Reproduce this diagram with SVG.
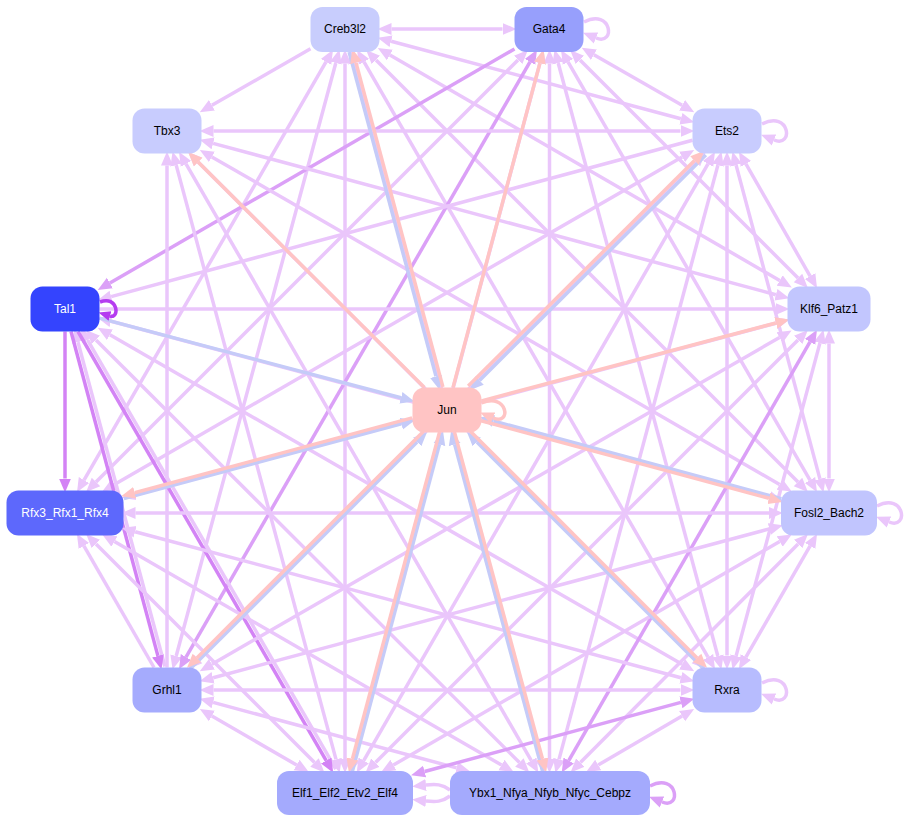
<svg xmlns="http://www.w3.org/2000/svg" width="908" height="823" viewBox="0 0 908 823">
<style>
.e{fill:none;stroke-width:3.5}
.L{stroke:#eac6fb}.M{stroke:#dba0f7}.D{stroke:#d383f5}.P{stroke:#ffc4c4}.B{stroke:#c5cbf8}
.LL{marker-start:url(#mL);marker-end:url(#mL)}.Le{marker-end:url(#mL)}
.MM{marker-start:url(#mM);marker-end:url(#mM)}.Me{marker-end:url(#mM)}
.De{marker-end:url(#mD)}.Pe{marker-end:url(#mP)}.Be{marker-end:url(#mB)}
.n rect{rx:12;ry:12}
.n text{font-family:"Liberation Sans",Arial,sans-serif;font-size:12px;text-anchor:middle;dominant-baseline:central;fill:#000}
.n .w{fill:#fff}
</style>
<defs>
<marker id="mL" viewBox="0 -7 15 14" refX="0" refY="0" markerWidth="15" markerHeight="14" markerUnits="userSpaceOnUse" orient="auto-start-reverse"><path d="M0,-6L14,0L0,6z" fill="#eac6fb"/></marker>
<marker id="mM" viewBox="0 -7 15 14" refX="0" refY="0" markerWidth="15" markerHeight="14" markerUnits="userSpaceOnUse" orient="auto-start-reverse"><path d="M0,-6L14,0L0,6z" fill="#dba0f7"/></marker>
<marker id="mD" viewBox="0 -7 15 14" refX="0" refY="0" markerWidth="15" markerHeight="14" markerUnits="userSpaceOnUse" orient="auto-start-reverse"><path d="M0,-6L14,0L0,6z" fill="#d383f5"/></marker>
<marker id="mD2" viewBox="0 -7 15 14" refX="0" refY="0" markerWidth="15" markerHeight="14" markerUnits="userSpaceOnUse" orient="auto-start-reverse"><path d="M0,-5L12,0L0,5z" fill="#b53cf0"/></marker>
<marker id="mP" viewBox="0 -7 15 14" refX="0" refY="0" markerWidth="15" markerHeight="14" markerUnits="userSpaceOnUse" orient="auto-start-reverse"><path d="M0,-6L14,0L0,6z" fill="#ffc4c4"/></marker>
<marker id="mB" viewBox="0 -7 15 14" refX="0" refY="0" markerWidth="15" markerHeight="14" markerUnits="userSpaceOnUse" orient="auto-start-reverse"><path d="M0,-6L14,0L0,6z" fill="#c5cbf8"/></marker>
</defs>
<g id="edges">
<line class="e L LL" x1="391.5" y1="29" x2="502.5" y2="29" stroke-width="4.5"/>
<line class="e L Le" x1="310.5" y1="48.8" x2="211.9" y2="105.3"/>
<line class="e L LL" x1="391.1" y1="41.3" x2="680.9" y2="118.7" stroke-width="5"/>
<line class="e L LL" x1="389.9" y1="55" x2="779.7" y2="280.5"/>
<line class="e L LL" x1="326" y1="61.9" x2="84" y2="480.1"/>
<line class="e L LL" x1="376" y1="60" x2="798" y2="482"/>
<line class="e L LL" x1="335.8" y1="63" x2="176.2" y2="656" stroke-width="4.5"/>
<line class="e L LL" x1="364" y1="61.9" x2="708" y2="657.1"/>
<line class="e L LL" x1="345" y1="63.5" x2="345" y2="759" stroke-width="5.5"/>
<line class="e L LL" x1="354.2" y1="63.2" x2="541" y2="759.4" stroke-width="4.5"/>
<line class="e L LL" x1="593.9" y1="54.7" x2="682.1" y2="105.3" stroke-width="4.5"/>
<line class="e M Me" x1="514.5" y1="49" x2="109.9" y2="283" stroke-width="2.5"/>
<line class="e L LL" x1="580" y1="60" x2="798" y2="278"/>
<line class="e L LL" x1="518" y1="60" x2="96" y2="482"/>
<line class="e L LL" x1="568" y1="61.9" x2="810" y2="480.1"/>
<line class="e M MM" x1="530" y1="61.9" x2="186" y2="657.1" stroke-width="3"/>
<line class="e L LL" x1="558.2" y1="63" x2="717.8" y2="656"/>
<line class="e L LL" x1="539.9" y1="63.2" x2="354" y2="759.4"/>
<line class="e L LL" x1="549.5" y1="63.5" x2="549.5" y2="759" stroke-width="5.5"/>
<line class="e L LL" x1="213.5" y1="131" x2="680.5" y2="131" stroke-width="4.5"/>
<line class="e L LL" x1="213.1" y1="143.4" x2="775.9" y2="294.7" stroke-width="5"/>
<line class="e L LL" x1="211.9" y1="156.9" x2="779.6" y2="484.5"/>
<line class="e L Le" x1="167" y1="667.5" x2="167" y2="165.5"/>
<line class="e L LL" x1="198.1" y1="162" x2="695.9" y2="659" stroke-width="4.5"/>
<line class="e L LL" x1="176.2" y1="165.1" x2="336" y2="759.4" stroke-width="4.5"/>
<line class="e L LL" x1="186" y1="163.9" x2="531.3" y2="760.6" stroke-width="4.5"/>
<line class="e L Le" x1="692.5" y1="140.3" x2="111.1" y2="296.6"/>
<line class="e L LL" x1="745.9" y1="163.9" x2="810.1" y2="276.1"/>
<line class="e L LL" x1="682.1" y1="156.9" x2="114.4" y2="484.5" stroke-width="4.5"/>
<line class="e L LL" x1="736.1" y1="165.1" x2="819.9" y2="478.9" stroke-width="4.5"/>
<line class="e L LL" x1="695.9" y1="162" x2="198.1" y2="659" stroke-width="4.5"/>
<line class="e L LL" x1="727" y1="165.5" x2="727" y2="655.5" stroke-width="5.5"/>
<line class="e L LL" x1="708" y1="163.9" x2="363.7" y2="760.6"/>
<line class="e L LL" x1="717.9" y1="165.1" x2="559" y2="759.4"/>
<line class="e L Le" x1="99.5" y1="309" x2="775.5" y2="309"/>
<line class="e D De" x1="65" y1="331.5" x2="65" y2="478.5" stroke-width="3"/>
<line class="e L LL" x1="111.1" y1="321.3" x2="769.4" y2="497.1"/>
<line class="e L Le" x1="164.9" y1="666.5" x2="78" y2="342.1"/>
<line class="e D De" x1="71" y1="331.5" x2="157.9" y2="655.9" stroke-width="2.5"/>
<line class="e L LL" x1="109.9" y1="334.8" x2="682.1" y2="664.2"/>
<line class="e L Le" x1="335.8" y1="769" x2="87.5" y2="339.9"/>
<line class="e D De" x1="78" y1="331.5" x2="326.2" y2="760.6" stroke-width="2.5"/>
<line class="e L LL" x1="96" y1="340" x2="519.4" y2="762.5"/>
<line class="e L LL" x1="775.9" y1="323.2" x2="135.1" y2="494.3" stroke-width="5"/>
<line class="e L LL" x1="829" y1="343.5" x2="829" y2="478.5" stroke-width="5.5"/>
<line class="e L LL" x1="779.5" y1="337.5" x2="211.9" y2="664.2" stroke-width="4.5"/>
<line class="e L LL" x1="819.9" y1="343.1" x2="736.1" y2="655.9"/>
<line class="e L LL" x1="798" y1="340" x2="375.5" y2="762.5"/>
<line class="e M MM" x1="810" y1="341.9" x2="568.7" y2="760.6" stroke-width="3"/>
<line class="e L LL" x1="135.5" y1="513" x2="769" y2="513" stroke-width="4.5"/>
<line class="e L Le" x1="154" y1="667.5" x2="83.9" y2="545.9"/>
<line class="e L LL" x1="135.1" y1="531.7" x2="680.9" y2="677.7"/>
<line class="e L LL" x1="96" y1="544" x2="314.5" y2="762.5" stroke-width="4.5"/>
<line class="e L LL" x1="114.4" y1="541.5" x2="501.5" y2="765"/>
<line class="e L LL" x1="769.4" y1="528.9" x2="213.1" y2="677.7" stroke-width="5"/>
<line class="e L LL" x1="810.1" y1="545.9" x2="745.9" y2="657.1"/>
<line class="e L LL" x1="779.7" y1="541.5" x2="393.4" y2="765" stroke-width="4.5"/>
<line class="e L LL" x1="798.1" y1="544" x2="580.4" y2="762.5"/>
<line class="e L LL" x1="213.5" y1="690" x2="680.5" y2="690" stroke-width="4.5"/>
<line class="e L LL" x1="211.9" y1="716" x2="296.6" y2="765" stroke-width="4.5"/>
<line class="e L LL" x1="213.1" y1="702.4" x2="456.6" y2="767.9"/>
<line class="e M MM" x1="680.9" y1="702.4" x2="424.6" y2="771.5" stroke-width="3"/>
<line class="e L LL" x1="682.1" y1="716.1" x2="598.2" y2="765"/>
<path class="e L Le" d="M450,790 C442,784 436,784 426,785"/>
<path class="e L Le" d="M450,796 C442,802 436,802 426,801"/>
<line class="e P Pe" x1="424.4" y1="387.5" x2="198.1" y2="162" stroke-width="3"/>
<line class="e B Be" x1="349.1" y1="52" x2="436" y2="376.4" stroke-width="3"/>
<line class="e P Pe" x1="442.9" y1="387" x2="356" y2="62.6" stroke-width="3"/>
<line class="e P Pe" x1="453" y1="387.5" x2="539.9" y2="63.1" stroke-width="3"/>
<line class="e B Be" x1="705.8" y1="154.9" x2="479.5" y2="380.4" stroke-width="3"/>
<line class="e P Pe" x1="468.2" y1="386.1" x2="694.5" y2="160.6" stroke-width="3"/>
<line class="e B Be" x1="99.5" y1="318.1" x2="400.9" y2="397.8" stroke-width="3"/>
<line class="e P Pe" x1="481.5" y1="400.9" x2="775.9" y2="323" stroke-width="3"/>
<line class="e B Be" x1="123.9" y1="498.6" x2="401.3" y2="423.8" stroke-width="3"/>
<line class="e P Pe" x1="412.1" y1="417.9" x2="134.7" y2="492.7" stroke-width="3"/>
<line class="e B Be" x1="781.4" y1="498.7" x2="493.5" y2="421" stroke-width="3"/>
<line class="e P Pe" x1="481.1" y1="420.7" x2="769" y2="498.3" stroke-width="3"/>
<line class="e B Be" x1="190.6" y1="668.6" x2="417.1" y2="442.1" stroke-width="3"/>
<line class="e P Pe" x1="423.4" y1="431.4" x2="196.9" y2="657.9" stroke-width="3"/>
<line class="e B Be" x1="703.4" y1="668.6" x2="476.9" y2="442.1" stroke-width="3"/>
<line class="e P Pe" x1="470.6" y1="431.4" x2="697.1" y2="657.9" stroke-width="3"/>
<line class="e B Be" x1="352.4" y1="771.4" x2="439.4" y2="444.5" stroke-width="3"/>
<line class="e P Pe" x1="439.5" y1="432.1" x2="352.4" y2="759" stroke-width="3"/>
<line class="e B Be" x1="542.6" y1="771.4" x2="454.7" y2="444.5" stroke-width="3"/>
<line class="e P Pe" x1="454.5" y1="432.1" x2="542.5" y2="759" stroke-width="3"/>
<path class="e L Le" d="M584,22 C612,8 616,46 596,38"/>
<path class="e L Le" d="M762,124 C790,110 794,148 774,140"/>
<path class="e" d="M100,302 C118,295 120,319 110,316" stroke="#b53cf0" stroke-width="2.5" marker-end="url(#mD2)"/>
<path class="e P Pe" d="M481.5,403 C508,392 512,426 493,418" stroke-width="3"/>
<path class="e L Le" d="M877,506 C905,492 909,530 889,522"/>
<path class="e L Le" d="M762,683 C790,669 794,707 774,699"/>
<path class="e M Me" d="M650,786 C678,772 682,810 662,802"/>
</g>
<g id="Creb3l2" class="n"><rect x="310.5" y="7" width="69" height="45" fill="#c8cdfd"/><text x="345" y="29">Creb3l2</text></g>
<g id="Gata4" class="n"><rect x="514.5" y="7" width="69" height="45" fill="#979ffc"/><text x="549" y="29">Gata4</text></g>
<g id="Tbx3" class="n"><rect x="132.5" y="108.5" width="69" height="45" fill="#c8ccfe"/><text x="167" y="131">Tbx3</text></g>
<g id="Ets2" class="n"><rect x="692.5" y="108.5" width="69" height="45" fill="#c8ccfe"/><text x="727" y="131">Ets2</text></g>
<g id="Tal1" class="n"><rect x="30.5" y="286.5" width="69" height="45" fill="#3444fe"/><text class="w" x="65" y="309">Tal1</text></g>
<g id="Klf6_Patz1" class="n"><rect x="787.5" y="286.5" width="83" height="45" fill="#c2c6fe"/><text x="829" y="309">Klf6_Patz1</text></g>
<g id="Jun" class="n"><rect x="412.5" y="387.5" width="69" height="45" fill="#ffc4c4"/><text x="447" y="410">Jun</text></g>
<g id="Rfx3_Rfx1_Rfx4" class="n"><rect x="6.5" y="490.5" width="117" height="45" fill="#5d68fc"/><text class="w" x="65" y="513">Rfx3_Rfx1_Rfx4</text></g>
<g id="Fosl2_Bach2" class="n"><rect x="781" y="490.5" width="96" height="45" fill="#c1c5fe"/><text x="829" y="513">Fosl2_Bach2</text></g>
<g id="Grhl1" class="n"><rect x="132.5" y="667.5" width="69" height="45" fill="#a5abfd"/><text x="167" y="690">Grhl1</text></g>
<g id="Rxra" class="n"><rect x="692.5" y="667.5" width="69" height="45" fill="#b7bcfe"/><text x="727" y="690">Rxra</text></g>
<g id="Elf1_Elf2_Etv2_Elf4" class="n"><rect x="277" y="771" width="136" height="44" fill="#a4aafd"/><text x="345" y="793">Elf1_Elf2_Etv2_Elf4</text></g>
<g id="Ybx1_Nfya_Nfyb_Nfyc_Cebpz" class="n"><rect x="450" y="771" width="200" height="44" fill="#a4aafd"/><text x="550" y="793">Ybx1_Nfya_Nfyb_Nfyc_Cebpz</text></g>
</svg>
